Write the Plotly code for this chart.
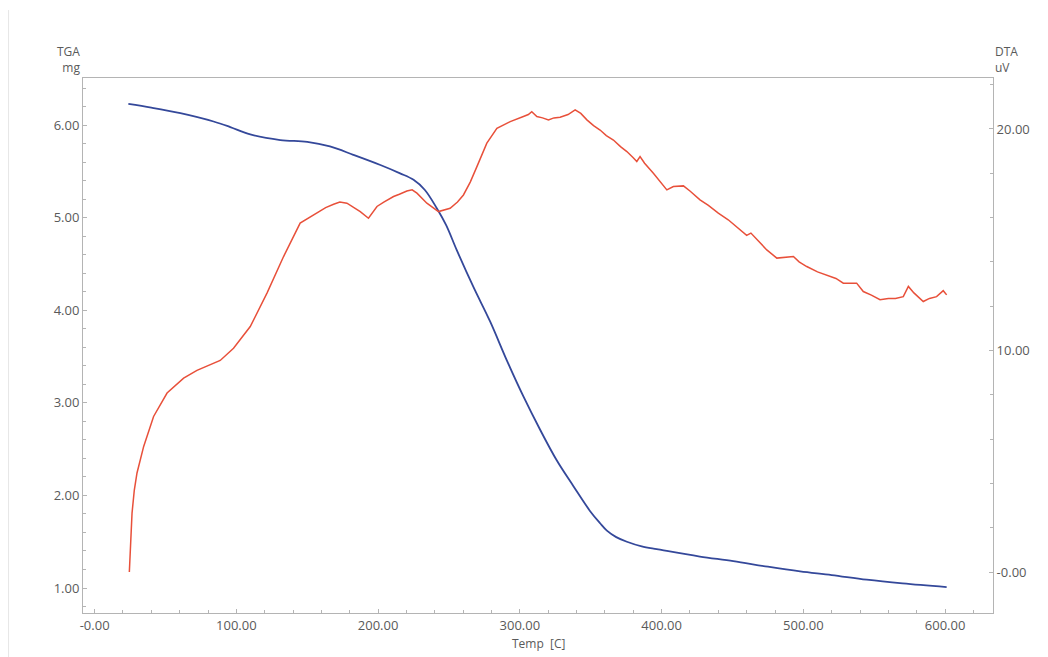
import plotly.graph_objects as go

# TGA (mass, mg) vs temperature
tga_temp = [23.8, 40, 60.5, 83.9, 95.7, 109.8, 131, 150, 166, 182.5, 201.6, 215.5, 225, 233,
            241.5, 248, 255.5, 267.3, 279, 290.8, 302.5, 314.3, 326, 337.8, 349.6, 356.6,
            361.4, 368, 375.5, 386, 396.6, 403.7, 427, 450.6, 475, 497.7, 520, 544.7, 570, 601.1]
tga_mass = [6.23, 6.19, 6.13, 6.04, 5.98, 5.90, 5.84, 5.82, 5.77, 5.68, 5.57, 5.48, 5.41, 5.30,
            5.10, 4.92, 4.65, 4.25, 3.88, 3.46, 3.07, 2.71, 2.38, 2.10, 1.83, 1.70,
            1.62, 1.55, 1.50, 1.45, 1.42, 1.40, 1.34, 1.29, 1.23, 1.18, 1.14, 1.09, 1.05, 1.01]

# DTA (uV) vs temperature
dta_temp = [24.5, 25.5, 26.4, 28, 29.9, 34.6, 41.6, 51.1, 62.8, 72.2, 80, 88.6, 98, 109.8,
            121.6, 133.3, 145, 150, 156.8, 163, 168.6, 173, 178, 182, 187.4, 193.2, 196,
            199.2, 204, 210.9, 215, 220.3, 224, 227.4, 234.4, 242.6, 250.8, 256, 260.2, 265,
            269.7, 276.7, 283.8, 293.2, 302.5, 306, 308.4, 312, 316, 320.2, 324, 328.4, 334,
            339, 343, 347.3, 352, 356.6, 361, 366, 371, 375.5, 380, 382.5, 384.8, 388, 394.2,
            399, 403.7, 408.3, 415.4, 420, 427.1, 433, 440, 447, 455, 460, 463, 468, 474.2,
            481.3, 487, 493, 497, 502.4, 510, 518.8, 523, 528.2, 533, 537.6, 542.3, 548,
            554.1, 560, 565, 570.5, 574.1, 578, 584.6, 589, 594, 598.7, 601.1]
dta_uv = [0.0, 1.5, 2.66, 3.7, 4.47, 5.67, 7.02, 8.08, 8.75, 9.10, 9.3, 9.55, 10.1, 11.08,
          12.59, 14.24, 15.75, 15.95, 16.2, 16.45, 16.6, 16.7, 16.65, 16.5, 16.27, 15.97, 16.2,
          16.5, 16.7, 16.95, 17.05, 17.2, 17.25, 17.1, 16.65, 16.27, 16.42, 16.7, 17.02, 17.6,
          18.3, 19.36, 20.03, 20.33, 20.56, 20.65, 20.78, 20.56, 20.5, 20.41, 20.5, 20.53, 20.65,
          20.86, 20.7, 20.41, 20.15, 19.95, 19.7, 19.5, 19.2, 18.98, 18.7, 18.53, 18.75, 18.45, 18.0,
          17.6, 17.25, 17.4, 17.43, 17.2, 16.8, 16.55, 16.2, 15.9, 15.45, 15.2, 15.3, 14.95, 14.54,
          14.17, 14.2, 14.24, 14.0, 13.79, 13.55, 13.34, 13.25, 13.04, 13.05, 13.04, 12.66, 12.5,
          12.29, 12.35, 12.35, 12.43, 12.89, 12.6, 12.21, 12.35, 12.43, 12.7, 12.51]

x_ticks = [0, 100, 200, 300, 400, 500, 600]
x_ticktext = ["-0.00", "100.00", "200.00", "300.00", "400.00", "500.00", "600.00"]
y1_ticks = [1, 2, 3, 4, 5, 6]
y1_ticktext = ["1.00", "2.00", "3.00", "4.00", "5.00", "6.00"]
y2_ticks = [0, 10, 20]
y2_ticktext = ["-0.00", "10.00", "20.00"]

AX = "#b4b4b4"
TXT = "#5a5a5a"
FONT = "Open Sans"

fig = go.Figure()
fig.add_trace(go.Scatter(x=dta_temp, y=dta_uv, mode="lines", yaxis="y2",
                         line=dict(color="#e8503a", width=1.5), showlegend=False))
fig.add_trace(go.Scatter(x=tga_temp, y=tga_mass, mode="lines", line_shape="spline",
                         line=dict(color="#34489a", width=1.8), showlegend=False))

common = dict(showline=True, linecolor=AX, linewidth=1, showgrid=False, zeroline=False,
              ticks="inside", ticklen=4, tickcolor=AX,
              tickfont=dict(family=FONT, size=13, color=TXT))

fig.update_layout(
    width=1048, height=657,
    margin=dict(l=75, r=63, t=70, b=52),
    paper_bgcolor="white", plot_bgcolor="white",
    font=dict(family=FONT, color=TXT),
    xaxis=dict(range=[-8.2, 633.8], tickmode="array", tickvals=x_ticks, ticktext=x_ticktext,
               mirror=True,
               minor=dict(tickmode="array", tickvals=list(range(0, 640, 20)), ticks="inside",
                          ticklen=3, tickcolor=AX),
               **common),
    yaxis=dict(range=[0.73, 6.51], tickmode="array", tickvals=y1_ticks, ticktext=y1_ticktext,
               minor=dict(tickmode="array", tickvals=[round(0.8 + 0.2 * i, 1) for i in range(29)],
                          ticks="inside", ticklen=3, tickcolor=AX),
               **common),
    yaxis2=dict(range=[-1.85, 22.3], overlaying="y", side="right", tickmode="array",
                tickvals=y2_ticks, ticktext=y2_ticktext,
                minor=dict(tickmode="array", tickvals=list(range(0, 23, 2)), ticks="inside",
                           ticklen=3, tickcolor=AX),
                **common),
    annotations=[
        dict(text="TGA<br>mg", xref="paper", yref="paper", x=0, y=1, xanchor="right",
             yanchor="bottom", align="right", showarrow=False, xshift=-1,
             font=dict(family=FONT, size=12, color=TXT)),
        dict(text="DTA<br>uV", xref="paper", yref="paper", x=1, y=1, xanchor="left",
             yanchor="bottom", align="left", showarrow=False, xshift=0,
             font=dict(family=FONT, size=12, color=TXT)),
        dict(text="Temp  [C]", xref="paper", yref="paper", x=0.5, y=0, xanchor="center",
             yanchor="top", showarrow=False, yshift=-20,
             font=dict(family=FONT, size=12, color=TXT)),
    ],
    shapes=[dict(type="line", xref="paper", yref="paper", x0=-0.0818, x1=-0.0818,
                 y0=1.127, y1=-0.096, line=dict(color="#e6e6e6", width=1))],
)

fig.write_html("out.html")
